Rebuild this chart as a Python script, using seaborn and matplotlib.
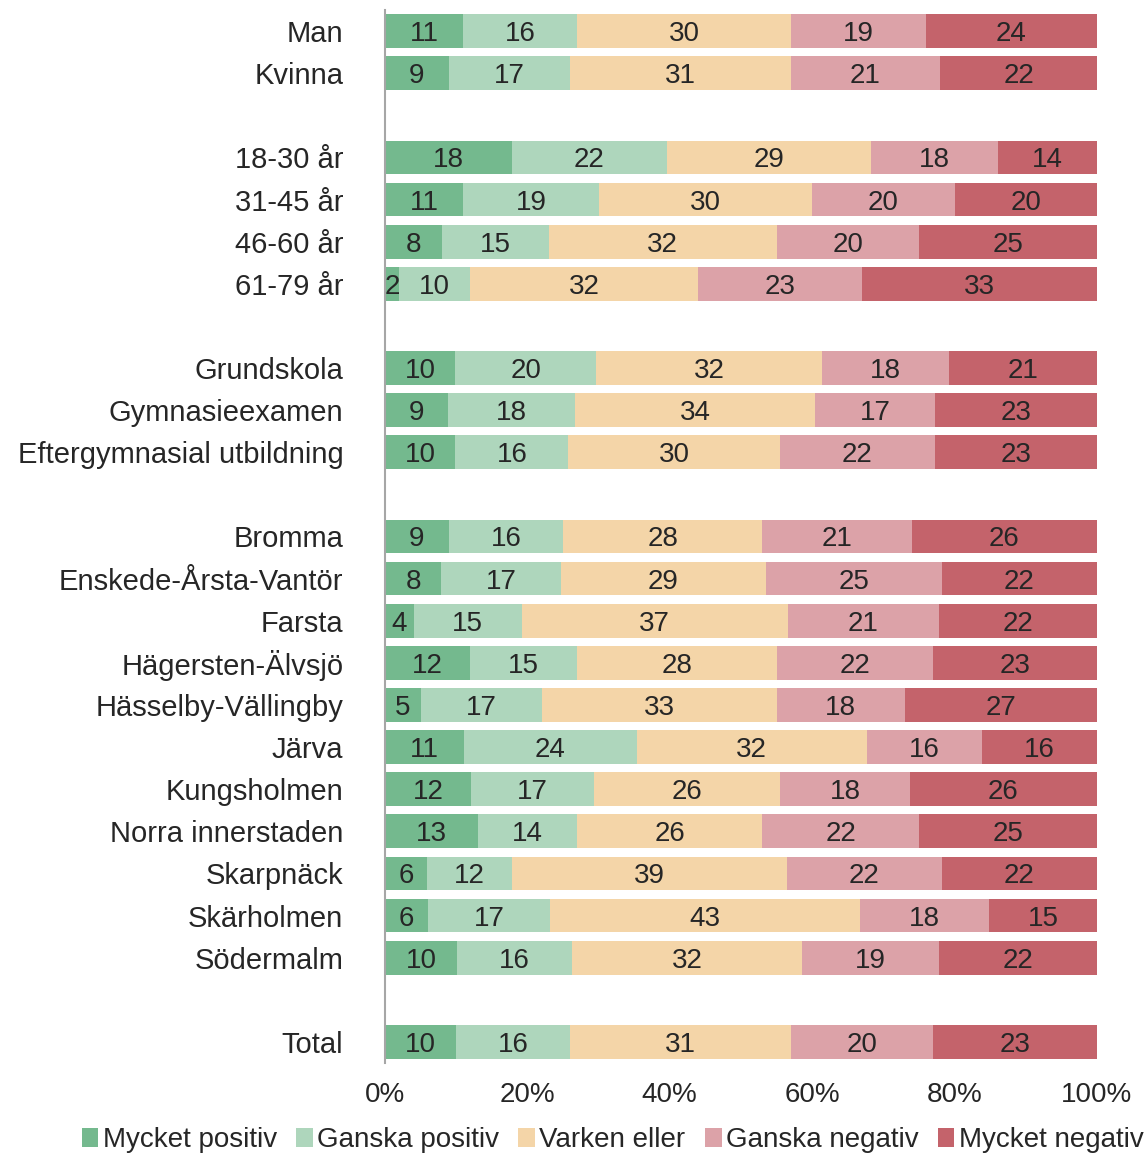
import matplotlib.pyplot as plt
import pandas as pd
import seaborn as sns
from matplotlib.patches import Patch

# answer categories and colours
answers = ['Mycket positiv', 'Ganska positiv', 'Varken eller', 'Ganska negativ', 'Mycket negativ']
colors = ['#74b98e', '#aed6bc', '#f4d5a8', '#dca2a8', '#c4636b']

# row labels, '' marks a blank spacer row
rows = ['Man', 'Kvinna', '',
        '18-30 år', '31-45 år', '46-60 år', '61-79 år', '',
        'Grundskola', 'Gymnasieexamen', 'Eftergymnasial utbildning', '',
        'Bromma', 'Enskede-Årsta-Vantör', 'Farsta', 'Hägersten-Älvsjö',
        'Hässelby-Vällingby', 'Järva', 'Kungsholmen', 'Norra innerstaden',
        'Skarpnäck', 'Skärholmen', 'Södermalm', '',
        'Total']

mycket_positiv = [11, 9, 18, 11, 8, 2, 10, 9, 10, 9, 8, 4, 12, 5, 11, 12, 13, 6, 6, 10, 10]
ganska_positiv = [16, 17, 22, 19, 15, 10, 20, 18, 16, 16, 17, 15, 15, 17, 24, 17, 14, 12, 17, 16, 16]
varken_eller = [30, 31, 29, 30, 32, 32, 32, 34, 30, 28, 29, 37, 28, 33, 32, 26, 26, 39, 43, 32, 31]
ganska_negativ = [19, 21, 18, 20, 20, 23, 18, 17, 22, 21, 25, 21, 22, 18, 16, 18, 22, 22, 18, 19, 20]
mycket_negativ = [24, 22, 14, 20, 25, 33, 21, 23, 23, 26, 22, 22, 23, 27, 16, 26, 25, 22, 15, 22, 23]

names = [r for r in rows if r]
df = pd.DataFrame({'grupp': names,
                   answers[0]: mycket_positiv, answers[1]: ganska_positiv,
                   answers[2]: varken_eller, answers[3]: ganska_negativ,
                   answers[4]: mycket_negativ})

# spacer rows get unique blank names so they keep their own slot
order = []
blank = 0
for r in rows:
    if r:
        order.append(r)
    else:
        blank += 1
        order.append(' ' * blank)

# widths scaled to 100 %, labels keep the printed integers
tot = df[answers].sum(axis=1)
shares = df[answers].div(tot, axis=0) * 100
cum = shares.cumsum(axis=1)
for a in answers:
    df['cum_' + a] = cum[a]

plt.rcParams['font.family'] = ['Liberation Sans', 'DejaVu Sans']
textc = '#262626'

fig = plt.figure(figsize=(11.45, 11.55), dpi=100)
ax = fig.add_axes([0.3362, 0.0797, 0.6218, 0.9116])

for a, c in reversed(list(zip(answers, colors))):
    sns.barplot(data=df, y='grupp', x='cum_' + a, order=order, orient='h',
                color=c, saturation=1, width=0.8, linewidth=0, ax=ax)

pos = {r: i for i, r in enumerate(order)}
for _, row in df.iterrows():
    left = 0
    for a in answers:
        w = shares.loc[_, a]
        ax.text(left + w / 2, pos[row['grupp']], str(int(row[a])),
                ha='center', va='center_baseline', fontsize=20, color=textc)
        left += w

ax.set_xlim(0, 100)
ax.set_ylim(len(order) - 0.5, -0.5)
ax.set_xticks([0, 20, 40, 60, 80, 100])
ax.set_xticklabels([f'{v}%' for v in range(0, 101, 20)])
ax.set_yticks(range(len(order)))
ax.set_yticklabels([r.strip() for r in order])
ax.set_xlabel('')
ax.set_ylabel('')
ax.tick_params(axis='both', length=0, labelcolor=textc)
ax.tick_params(axis='y', pad=30, labelsize=21)
ax.tick_params(axis='x', pad=14, labelsize=20)
for s in ['top', 'right', 'bottom']:
    ax.spines[s].set_visible(False)
ax.spines['left'].set_color('#a6a6a6')
ax.spines['left'].set_linewidth(1.5)

handles = [Patch(facecolor=c, edgecolor='none', label=a) for a, c in zip(answers, colors)]
fig.legend(handles=handles, loc='lower center', bbox_to_anchor=(0.535, -0.02), ncol=5,
           frameon=False, fontsize=20, handlelength=0.6, handleheight=0.7,
           handletextpad=0.15, columnspacing=0.7, labelcolor=textc)

fig.savefig('out.png', dpi=100)
